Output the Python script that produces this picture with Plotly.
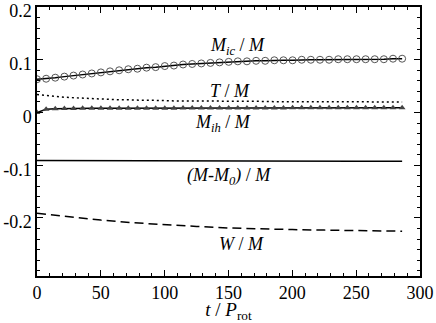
import plotly.graph_objects as go

t = [0, 7.15, 14.3, 21.45, 28.6, 35.75, 42.9, 50.05, 57.2, 64.35, 71.5, 78.65, 85.8, 92.95,
     100.1, 107.25, 114.4, 121.55, 128.7, 135.85, 143, 150.15, 157.3, 164.45, 171.6, 178.75,
     185.9, 193.05, 200.2, 207.35, 214.5, 221.65, 228.8, 235.95, 243.1, 250.25, 257.4, 264.55,
     271.7, 278.85, 286]

m_ic = [0.063, 0.064, 0.066, 0.068, 0.070, 0.072, 0.074, 0.076, 0.078, 0.080, 0.082, 0.083,
        0.085, 0.086, 0.088, 0.089, 0.091, 0.092, 0.093, 0.094, 0.095, 0.096, 0.097, 0.097,
        0.098, 0.098, 0.099, 0.099, 0.099, 0.100, 0.100, 0.100, 0.100, 0.101, 0.101, 0.101,
        0.101, 0.101, 0.101, 0.102, 0.102]

m_ih = [0.000, 0.006, 0.007, 0.0075, 0.0075, 0.008, 0.008, 0.008, 0.008, 0.008, 0.008, 0.008,
        0.008, 0.008, 0.008, 0.008, 0.0085, 0.0085, 0.0085, 0.0085, 0.0085, 0.0085, 0.0085, 0.0085,
        0.0085, 0.0085, 0.0085, 0.0085, 0.009, 0.009, 0.009, 0.009, 0.009, 0.009, 0.009, 0.009,
        0.009, 0.009, 0.009, 0.009, 0.009]

t_m = [0.034, 0.032, 0.030, 0.029, 0.028, 0.027, 0.026, 0.025, 0.025, 0.024, 0.024, 0.023,
       0.023, 0.023, 0.022, 0.022, 0.022, 0.022, 0.021, 0.021, 0.021, 0.021, 0.021, 0.021,
       0.021, 0.021, 0.0205, 0.0205, 0.0205, 0.0205, 0.0205, 0.0205, 0.020, 0.020, 0.020, 0.020,
       0.020, 0.020, 0.020, 0.020, 0.020]

t_c = [0, 25, 50, 75, 100, 125, 150, 175, 200, 225, 250, 286]
dm = [-0.091, -0.091, -0.0912, -0.0914, -0.0916, -0.0918, -0.092, -0.092, -0.0922, -0.0922, -0.0924, -0.0925]
w_m = [-0.191, -0.198, -0.204, -0.209, -0.213, -0.216, -0.219, -0.221, -0.222, -0.223, -0.224, -0.225]

labels = ["<i>M<sub>ic</sub></i> / <i>M</i>", "<i>T</i> / <i>M</i>", "<i>M<sub>ih</sub></i> / <i>M</i>",
          "<i>(M-M<sub>0</sub>)</i> / <i>M</i>", "<i>W</i> / <i>M</i>"]
label_x = [157, 151, 146, 150, 160]
label_y = [0.125, 0.040, -0.021, -0.121, -0.25]

serif = "Liberation Serif, Times New Roman, serif"

fig = go.Figure()
fig.add_trace(go.Scatter(x=t, y=t_m, mode="lines", line=dict(color="black", width=1.5, dash="2px,3px")))
fig.add_trace(go.Scatter(x=t, y=m_ic, mode="lines+markers", line=dict(color="black", width=1.5),
                         marker=dict(symbol="circle-open", size=7, color="#555555", line=dict(width=1))))
fig.add_trace(go.Scatter(x=t, y=m_ih, mode="lines+markers", line=dict(color="black", width=1.5),
                         marker=dict(symbol="triangle-up", size=6, color="#444444")))
fig.add_trace(go.Scatter(x=t_c, y=dm, mode="lines", line=dict(color="black", width=1.5)))
fig.add_trace(go.Scatter(x=t_c, y=w_m, mode="lines", line=dict(color="black", width=1.5, dash="9px,5px")))

for txt, lx, ly in zip(labels, label_x, label_y):
    fig.add_annotation(x=lx, y=ly, text=txt, showarrow=False,
                       font=dict(family=serif, size=18, color="black"))

axis_common = dict(showline=True, linecolor="black", linewidth=1.5, mirror="allticks",
                   ticks="inside", ticklen=6, tickwidth=1, tickcolor="black",
                   showgrid=False, zeroline=False, automargin=False, ticklabeloverflow="allow",
                   tickfont=dict(family=serif, size=18, color="black"))

fig.update_xaxes(range=[0, 300], tickvals=[0, 50, 100, 150, 200, 250, 300],
                 minor=dict(dtick=10, ticks="inside", ticklen=3, tickcolor="black"),
                 title=dict(text="<i>t</i> / <i>P</i><sub>rot</sub>", standoff=0,
                            font=dict(family=serif, size=19, color="black")),
                 **axis_common)
fig.update_yaxes(range=[-0.31, 0.2], tickvals=[-0.2, -0.1, 0, 0.1, 0.2],
                 ticktext=["-0.2", "-0.1", "0", "0.1", "0.2"], ticklabelshift=4,
                 minor=dict(dtick=0.02, tick0=0, ticks="inside", ticklen=3, tickcolor="black"),
                 **axis_common)

fig.update_layout(width=436, height=323, showlegend=False,
                  font=dict(family=serif, color="black"),
                  margin=dict(l=37, r=16, t=7, b=47),
                  plot_bgcolor="white", paper_bgcolor="white")

fig.write_html("out.html", config={"displayModeBar": False},
               post_script="document.body.style.margin='0px';")
